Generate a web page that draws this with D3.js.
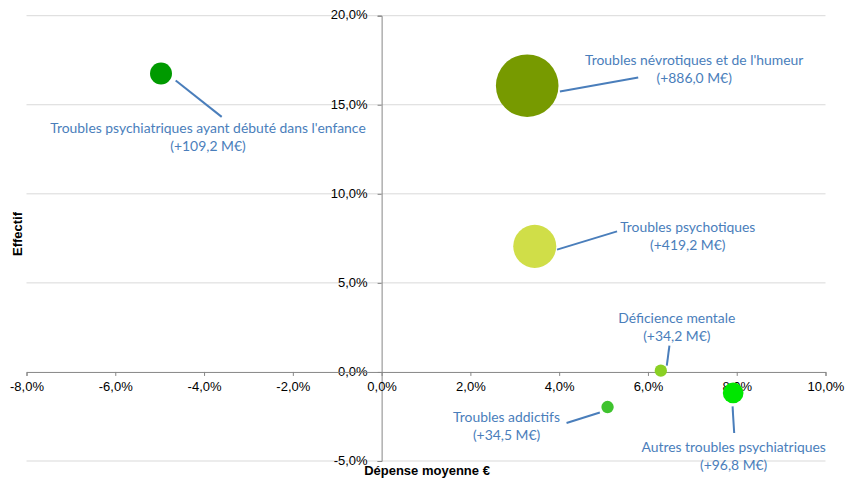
<!DOCTYPE html>
<html>
<head>
<meta charset="utf-8">
<script src="https://cdn.jsdelivr.net/npm/d3@7"></script>
<style>
  html, body { margin: 0; padding: 0; background: #fff; }
  svg { display: block; }
</style>
</head>
<body>
<svg id="chart" width="845" height="480"></svg>
<script>
// ---- Data ----
const categories = [
  "Troubles psychiatriques ayant débuté dans l'enfance",
  "Troubles névrotiques et de l'humeur",
  "Troubles psychotiques",
  "Déficience mentale",
  "Troubles addictifs",
  "Autres troubles psychiatriques"
];
const depenseMoyenne = [-4.97, 3.28, 3.45, 6.29, 5.09, 7.92];   // x, %
const effectif       = [16.75, 16.07, 7.05, 0.07, -1.97, -1.18]; // y, %
const montant        = [109.2, 886.0, 419.2, 34.2, 34.5, 96.8];  // bubble size, M€
const montantLabels  = ["(+109,2 M€)", "(+886,0 M€)", "(+419,2 M€)", "(+34,2 M€)", "(+34,5 M€)", "(+96,8 M€)"];
const xTicks = [-8, -6, -4, -2, 0, 2, 4, 6, 8, 10];
const yTicks = [-5, 0, 5, 10, 15, 20];

// ---- Styles / layout ----
const bubbleColors = ["#009a00", "#779a00", "#d0de48", "#8ad024", "#3fc32e", "#00e600"];
const labelColor = "#4a7ebb";
// label layout relative to bubble centre (px): [dx, baseline dy], leader [x1,y1,x2,y2]
const labelLayout = [
  {dx: 47,   dy: 59,  lead: [14.7, 7, 60.7, 43.3]},
  {dx: 167,  dy: -21, lead: [32.7, 5.7, 111, -8.3]},
  {dx: 153,  dy: -14, lead: [22.3, 3.3, 82.3, -15]},
  {dx: 16,   dy: -48, lead: [6, -5, 8.6, -25]},
  {dx: -101, dy: 14.5, lead: [-7.7, 5.4, -41, 16]},
  {dx: 0.5,  dy: 59,  lead: [-0.6, 13.4, 1, 40]}
];

const svg = d3.select("#chart");
const x = d3.scaleLinear().domain([-8, 10]).range([26.5, 825.5]);
const y = d3.scaleLinear().domain([-5, 20]).range([461, 15.7]);
const r = d3.scaleSqrt().domain([0, 886]).range([0, 31.3]);
const fmt = v => d3.format(".1f")(v).replace(".", ",").replace("\u2212", "-") + "%";

// gridlines
svg.append("g").selectAll("line").data(yTicks.filter(t => t !== 0)).join("line")
  .attr("x1", x(-8)).attr("x2", x(10))
  .attr("y1", d => y(d)).attr("y2", d => y(d))
  .attr("stroke", "#d9d9d9").attr("stroke-width", 1);

// y axis at x=0
const yAxis = svg.append("g").attr("transform", `translate(${x(0)},0)`)
  .call(d3.axisLeft(y).tickValues(yTicks).tickFormat(fmt).tickSize(4).tickPadding(10));
// x axis at y=0
const xAxis = svg.append("g").attr("transform", `translate(0,${y(0)})`)
  .call(d3.axisBottom(x).tickValues(xTicks).tickFormat(fmt).tickSize(4).tickPadding(6));

[yAxis, xAxis].forEach(g => {
  g.select(".domain").attr("stroke", "#868686");
  g.selectAll(".tick line").attr("stroke", "#868686");
  g.selectAll("text").attr("font-family", "'Liberation Sans', Arial, sans-serif")
    .attr("font-size", 13).attr("fill", "#000");
});
yAxis.selectAll(".tick text").attr("dy", "0.25em");

// axis titles
svg.append("text").attr("x", 427).attr("y", 475).attr("text-anchor", "middle")
  .attr("font-family", "'Liberation Sans', Arial, sans-serif").attr("font-weight", "bold")
  .attr("font-size", 13).text("Dépense moyenne €");
svg.append("text").attr("transform", "translate(22,234) rotate(-90)").attr("text-anchor", "middle")
  .attr("font-family", "'Liberation Sans', Arial, sans-serif").attr("font-weight", "bold")
  .attr("font-size", 13).text("Effectif");

const data = categories.map((c, i) => ({
  c, x: depenseMoyenne[i], y: effectif[i], v: montant[i], lab: montantLabels[i],
  color: bubbleColors[i], L: labelLayout[i]
}));

// bubbles (largest first)
svg.append("g").selectAll("circle").data(data.slice().sort((a, b) => b.v - a.v)).join("circle")
  .attr("cx", d => x(d.x)).attr("cy", d => y(d.y)).attr("r", d => r(d.v))
  .attr("fill", d => d.color);

// leader lines
svg.append("g").selectAll("line").data(data).join("line")
  .attr("x1", d => x(d.x) + d.L.lead[0]).attr("y1", d => y(d.y) + d.L.lead[1])
  .attr("x2", d => x(d.x) + d.L.lead[2]).attr("y2", d => y(d.y) + d.L.lead[3])
  .attr("stroke", labelColor).attr("stroke-width", 2);

// labels
const lg = svg.append("g").selectAll("text").data(data).join("text")
  .attr("text-anchor", "middle")
  .attr("font-family", "Lato, 'Open Sans', sans-serif").attr("font-size", 13.9)
  .attr("fill", labelColor);
lg.append("tspan").attr("x", d => x(d.x) + d.L.dx).attr("y", d => y(d.y) + d.L.dy).text(d => d.c);
lg.append("tspan").attr("x", d => x(d.x) + d.L.dx).attr("y", d => y(d.y) + d.L.dy + 18).text(d => d.lab);
</script>
</body>
</html>
